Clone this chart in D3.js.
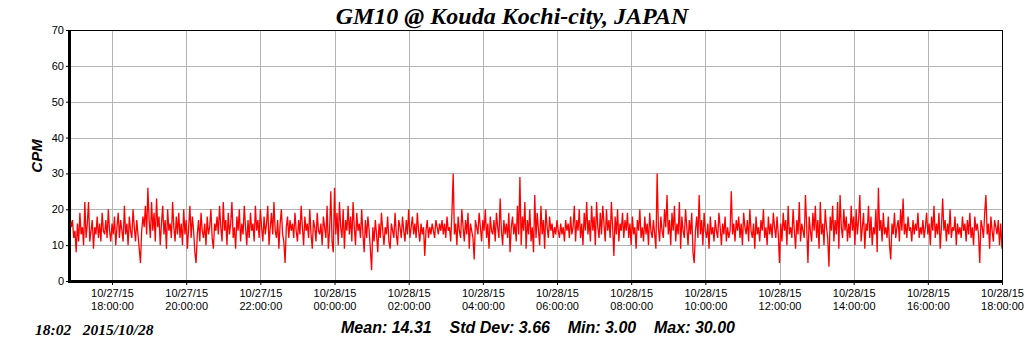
<!DOCTYPE html>
<html><head><meta charset="utf-8">
<script src="https://cdn.jsdelivr.net/npm/d3@7"></script>
<style>body{margin:0;background:#fff}svg{display:block}</style>
</head><body><svg id="c" width="1024" height="351"></svg>
<script>
const startTime = new Date(2015, 9, 27, 16, 52);
const stepMinutes = 2;
const cpmValues = [
18,15,17,12,14,8,16,11,19,13,15,10,22,12,16,22,11,14,17,9,15,13,18,12,16,11,19,14,13,17,
12,20,14,11,16,13,18,10,15,19,12,17,14,11,21,13,16,10,18,14,12,20,15,11,17,13,9,5,14,18,
15,21,13,26,17,12,22,14,19,11,23,15,18,10,16,21,13,17,9,20,14,16,12,22,15,11,18,13,19,12,
16,10,20,13,17,9,15,21,12,18,14,8,5,13,17,11,19,14,12,16,10,18,13,15,20,12,9,16,14,18,
13,21,15,11,22,14,17,10,19,13,16,22,12,15,9,18,14,20,11,16,13,21,15,10,17,12,19,14,16,11,
21,14,17,12,20,15,11,18,13,16,21,10,15,19,13,22,14,12,17,9,16,20,13,11,5,15,18,12,17,14,
16,12,19,14,11,17,13,21,15,10,18,14,16,12,20,13,9,17,15,11,19,14,13,16,10,18,15,12,21,9,
14,25,11,8,26,13,19,10,22,15,12,20,9,17,14,21,13,18,11,22,15,10,19,14,16,12,20,13,8,17,
12,18,14,9,3,15,11,17,13,8,16,12,19,14,10,15,13,18,11,9,16,14,12,19,13,10,17,15,12,18,
14,11,17,13,20,12,15,18,13,16,12,19,14,11,16,13,15,7,14,17,12,15,13,16,14,12,17,15,13,16,
14,17,13,16,12,18,14,15,11,19,30,13,16,10,18,14,12,20,15,11,17,13,19,9,16,14,12,6,17,15,
13,19,15,11,17,14,20,12,16,9,18,14,13,17,11,19,15,12,23,14,10,17,13,16,12,19,8,15,18,13,
16,11,21,13,29,10,18,14,22,9,17,13,20,11,15,8,24,12,19,14,10,21,13,17,9,20,15,12,18,14,
16,12,15,13,17,14,12,16,13,15,11,17,14,16,12,18,13,15,21,11,17,14,20,12,16,10,19,14,22,13,
17,11,21,14,18,10,22,15,12,19,13,21,16,11,20,14,17,12,22,15,7,18,13,20,11,16,14,19,12,17,
14,19,12,16,10,18,13,15,9,17,14,20,12,15,11,18,13,16,10,19,14,12,17,13,9,30,15,11,18,14,
12,20,15,24,13,17,10,19,14,21,11,16,13,22,9,18,14,12,20,15,10,17,13,19,8,5,14,18,12,24,
13,17,10,19,14,12,16,9,18,13,15,11,17,14,12,19,15,10,16,13,18,11,15,12,14,25,13,16,11,17,
14,18,12,16,10,19,15,13,17,11,20,14,12,16,9,18,13,15,11,17,14,20,12,15,10,18,13,16,12,19,
15,12,18,13,5,16,11,19,14,17,10,21,13,15,12,20,14,9,17,13,22,11,16,14,12,24,15,5,18,14,
11,19,14,21,12,17,9,22,13,16,10,20,15,12,4,18,14,21,11,17,13,22,9,24,15,12,20,14,18,11,
16,12,21,14,18,10,20,13,17,24,11,15,19,9,16,14,21,12,18,10,15,13,20,8,26,14,17,11,19,13,
15,12,18,10,6,16,13,19,12,15,17,11,20,14,23,13,16,12,18,14,15,11,17,13,16,14,19,12,15,13,
17,12,15,19,13,16,10,18,14,21,12,16,13,19,9,15,23,14,17,11,16,13,20,12,15,14,18,10,16,13,
15,12,18,14,16,11,17,13,19,12,15,10,18,14,16,13,5,17,15,12,19,24,13,16,9,18,14,11,17,15,
13,17,10,16,9
];
const yTicks = [0,10,20,30,40,50,60,70];
const xTickHours = [18,20,22,24,26,28,30,32,34,36,38,40,42];
const titleText = "GM10 @ Kouda Kochi-city, JAPAN";
const yLabel = "CPM";
const stampText = "18:02   2015/10/28";
const statsText = "Mean: 14.31    Std Dev: 3.66    Min: 3.00    Max: 30.00";

const data = cpmValues.map((v,i)=>({t:new Date(startTime.getTime()+i*stepMinutes*60000), v}));
const endTime = new Date(2015,9,28,18,0);
const L=70,R=1002,T=30,B=281;
const svg = d3.select("#c");
const x = d3.scaleTime().domain([startTime,endTime]).range([L,R]);
const y = d3.scaleLinear().domain([0,70]).range([B,T]);
const xTicks = xTickHours.map(h=>new Date(2015,9,27,h,0));

// grid
svg.append("g").selectAll("line.h").data(yTicks.filter(d=>d>0&&d<70)).join("line")
  .attr("x1",L).attr("x2",R).attr("y1",d=>Math.round(y(d))+0.5).attr("y2",d=>Math.round(y(d))+0.5)
  .attr("stroke","#b4b4b4").attr("stroke-width",1);
svg.append("g").selectAll("line.v").data(xTicks.slice(0,-1)).join("line")
  .attr("y1",T).attr("y2",B).attr("x1",d=>Math.round(x(d))+0.5).attr("x2",d=>Math.round(x(d))+0.5)
  .attr("stroke","#b4b4b4").attr("stroke-width",1);

// line
svg.append("path").datum(data)
  .attr("d", d3.line().x(d=>x(d.t)).y(d=>y(d.v)))
  .attr("fill","none").attr("stroke","#ff0000").attr("stroke-width",1.3);

// frame
svg.append("line").attr("x1",L).attr("x2",R).attr("y1",T+0.5).attr("y2",T+0.5).attr("stroke","#000");
svg.append("line").attr("x1",R+0.5).attr("x2",R+0.5).attr("y1",T).attr("y2",B).attr("stroke","#000");

// axes
const yAxis = svg.append("g").attr("transform",`translate(${L},0)`)
  .call(d3.axisLeft(y).tickValues(yTicks).tickSize(4).tickPadding(2));
yAxis.select(".domain").remove();
yAxis.selectAll("text").attr("font-family","Liberation Sans, Arial, sans-serif").attr("font-size",11).attr("fill","#000");
svg.append("line").attr("x1",L-0.5).attr("x2",L-0.5).attr("y1",T).attr("y2",B+1.5).attr("stroke","#000").attr("stroke-width",3);

const fmtD = d3.timeFormat("%m/%d/%y"), fmtT = d3.timeFormat("%H:%M:%S");
const xAxis = svg.append("g").attr("transform",`translate(0,${B})`)
  .call(d3.axisBottom(x).tickValues(xTicks).tickSize(4).tickFormat(""));
xAxis.select(".domain").remove();
xAxis.selectAll(".tick").each(function(d){
  const t = d3.select(this).append("text").attr("fill","#000")
    .attr("font-family","Liberation Sans, Arial, sans-serif").attr("font-size",11).attr("text-anchor","middle");
  t.append("tspan").attr("x",0).attr("y",16).text(fmtD(d));
  t.append("tspan").attr("x",0).attr("y",29).text(fmtT(d));
});
svg.append("line").attr("x1",L-2).attr("x2",R+1).attr("y1",B+0.5).attr("y2",B+0.5).attr("stroke","#000").attr("stroke-width",3);

// texts
svg.append("text").attr("x",512).attr("y",24).attr("text-anchor","middle")
  .attr("font-family","Liberation Serif, Times New Roman, serif").attr("font-weight","bold").attr("font-style","italic")
  .attr("font-size",24).text(titleText);
svg.append("text").attr("transform","translate(42,156) rotate(-90)").attr("text-anchor","middle")
  .attr("font-family","Liberation Sans, Arial, sans-serif").attr("font-weight","bold").attr("font-style","italic")
  .attr("font-size",15).text(yLabel);
svg.append("text").attr("x",35).attr("y",335).style("white-space","pre")
  .attr("font-family","Liberation Serif, Times New Roman, serif").attr("font-weight","bold").attr("font-style","italic")
  .attr("font-size",15.5).text(stampText);
svg.append("text").attr("x",538).attr("y",333).attr("text-anchor","middle").style("white-space","pre")
  .attr("font-family","Liberation Sans, Arial, sans-serif").attr("font-weight","bold").attr("font-style","italic")
  .attr("font-size",16).text(statsText);
</script></body></html>
